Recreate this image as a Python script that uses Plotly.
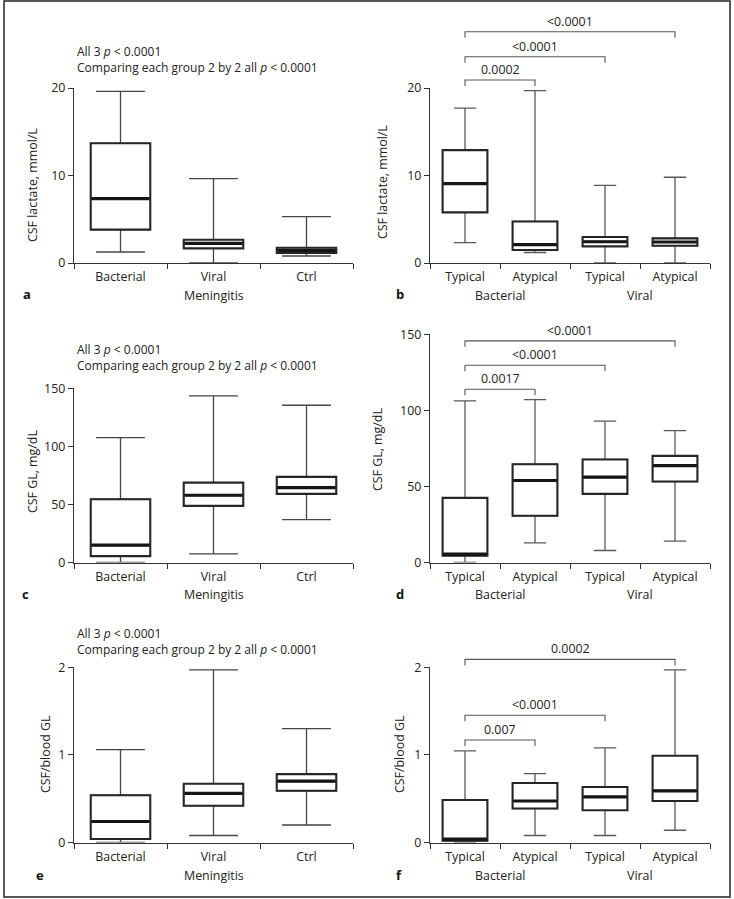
import plotly.graph_objects as go

# ---------------- data ----------------
left_cats = ["Bacterial", "Viral", "Ctrl"]
right_cats = ["Typical", "Atypical", "Typical", "Atypical"]
right_groups = ["Bacterial", "Viral"]

# panel a: CSF lactate, mmol/L
a_lower = [1.26, 0.0, 0.8]
a_q1 = [3.81, 1.67, 1.14]
a_med = [7.35, 2.24, 1.45]
a_q3 = [13.68, 2.66, 1.74]
a_upper = [19.62, 9.64, 5.3]

# panel b
b_lower = [2.32, 1.2, 0.0, 0.0]
b_q1 = [5.79, 1.49, 1.9, 1.98]
b_med = [9.07, 2.09, 2.43, 2.4]
b_q3 = [12.9, 4.75, 2.97, 2.81]
b_upper = [17.7, 19.7, 8.88, 9.8]

# panel c: CSF GL, mg/dL
c_lower = [0.0, 7.5, 37.0]
c_q1 = [5.5, 48.8, 59.1]
c_med = [15.0, 57.9, 64.5]
c_q3 = [54.5, 68.8, 73.7]
c_upper = [107.5, 143.4, 135.4]

# panel d
d_lower = [0.0, 12.9, 7.9, 14.0]
d_q1 = [4.5, 30.7, 45.1, 53.2]
d_med = [5.5, 53.9, 56.1, 63.7]
d_q3 = [42.5, 64.6, 67.7, 70.1]
d_upper = [106.2, 107.0, 92.9, 86.7]

# panel e: CSF/blood GL
e_lower = [0.0, 0.08, 0.2]
e_q1 = [0.04, 0.42, 0.59]
e_med = [0.24, 0.56, 0.70]
e_q3 = [0.54, 0.67, 0.78]
e_upper = [1.06, 1.97, 1.30]

# panel f
f_lower = [0.0, 0.08, 0.08, 0.14]
f_q1 = [0.02, 0.388, 0.368, 0.474]
f_med = [0.04, 0.474, 0.52, 0.59]
f_q3 = [0.486, 0.68, 0.634, 0.99]
f_upper = [1.045, 0.787, 1.08, 1.97]

# significance brackets: (from index, to index, height, label)
b_brackets = [(0, 1, 20.91, "0.0002"), (0, 2, 23.58, "<0.0001"), (0, 3, 26.43, "<0.0001")]
d_brackets = [(0, 1, 113.9, "0.0017"), (0, 2, 129.7, "<0.0001"), (0, 3, 145.7, "<0.0001")]
f_brackets = [(0, 1, 1.17, "0.007"), (0, 2, 1.452, "<0.0001"), (0, 3, 2.09, "0.0002")]

y_ticks = {"a": [0, 10, 20], "b": [0, 10, 20], "c": [0, 50, 100, 150],
           "d": [0, 50, 100, 150], "e": [0, 1, 2], "f": [0, 1, 2]}
y_titles = {"a": "CSF lactate, mmol/L", "b": "CSF lactate, mmol/L",
            "c": "CSF GL, mg/dL", "d": "CSF GL, mg/dL",
            "e": "CSF/blood GL", "f": "CSF/blood GL"}
header_text = ("All 3 <i>p</i> < 0.0001<br>"
               "Comparing each group 2 by 2 all <i>p</i> < 0.0001")

# ---------------- layout geometry (pixels) ----------------
W, H = 734, 899
FONT = "Open Sans"
FS = 12.4
TXT = "#222222"
AX = "#333333"


def px(x):
    return x / W


def py(y):
    return 1 - y / H


LEFT_X = (74, 353)
RIGHT_X = (430, 710)
geom = {
    "a": dict(x=LEFT_X, zero=263.0, top=88.0),
    "b": dict(x=RIGHT_X, zero=263.0, top=88.0, ext=12.0),
    "c": dict(x=LEFT_X, zero=562.5, top=388.3),
    "d": dict(x=RIGHT_X, zero=562.5, top=334.3, ext=318.0),
    "e": dict(x=LEFT_X, zero=842.5, top=667.3),
    "f": dict(x=RIGHT_X, zero=842.5, top=667.3, ext=640.0),
}
row_labels_y = {"a": 295, "b": 295, "c": 594, "d": 594, "e": 875, "f": 875}
ytitle_pos = {"a": (32, 185), "b": (382, 182), "c": (32, 472), "d": (377, 450),
              "e": (45, 754), "f": (399, 754)}
letter_pos = {"a": (27, 294), "b": (400, 294), "c": (25, 594), "d": (400, 594),
              "e": (40, 875), "f": (399, 875)}
header_mid = {"a": 59.5, "c": 357.5, "e": 641}

panels = {
    "a": (left_cats, a_lower, a_q1, a_med, a_q3, a_upper, None),
    "b": (right_cats, b_lower, b_q1, b_med, b_q3, b_upper, b_brackets),
    "c": (left_cats, c_lower, c_q1, c_med, c_q3, c_upper, None),
    "d": (right_cats, d_lower, d_q1, d_med, d_q3, d_upper, d_brackets),
    "e": (left_cats, e_lower, e_q1, e_med, e_q3, e_upper, None),
    "f": (right_cats, f_lower, f_q1, f_med, f_q3, f_upper, f_brackets),
}

fig = go.Figure()
annotations = []
layout = {}
BOX_W = 0.64
ext_axis_n = 7

for i, key in enumerate(["a", "b", "c", "d", "e", "f"]):
    n = i + 1
    cats, lo, q1, med, q3, up, brackets = panels[key]
    g = geom[key]
    xs = list(range(len(cats)))
    xname = "x" if n == 1 else f"x{n}"
    yname = "y" if n == 1 else f"y{n}"
    left = key in ("a", "c", "e")
    ww = 0.82 if left else 0.5
    wcol = "#454545" if left else "#5a5a5a"
    top_val = y_ticks[key][-1]

    # whiskers (thin) layer
    fig.add_trace(go.Box(
        x=xs, q1=q1, median=med, q3=q3, lowerfence=lo, upperfence=up,
        width=BOX_W, whiskerwidth=ww, fillcolor="white",
        line=dict(color=wcol, width=1.3), boxpoints=False,
        xaxis=xname, yaxis=yname, showlegend=False, hoverinfo="skip"))
    # box (thick) layer
    fig.add_trace(go.Box(
        x=xs, q1=q1, median=med, q3=q3, lowerfence=q1, upperfence=q3,
        width=BOX_W, whiskerwidth=0, fillcolor="white",
        line=dict(color="#262626", width=2.1), boxpoints=False,
        xaxis=xname, yaxis=yname, showlegend=False, hoverinfo="skip"))
    # thick median lines
    mx, my = [], []
    for xi, m in zip(xs, med):
        mx += [xi - BOX_W / 2 + 0.01, xi + BOX_W / 2 - 0.01, None]
        my += [m, m, None]
    fig.add_trace(go.Scatter(x=mx, y=my, mode="lines",
                             line=dict(color="#151515", width=3.2),
                             xaxis=xname, yaxis=yname, showlegend=False,
                             hoverinfo="skip"))

    xa = dict(domain=[px(g["x"][0]), px(g["x"][1])], range=[-0.5, len(cats) - 0.5],
              anchor=yname, showline=True, linecolor=AX, linewidth=1.3,
              showgrid=False, zeroline=False, automargin=False,
              tickmode="array", tickvals=xs, ticktext=cats,
              ticks="outside", ticklen=2, tickcolor="rgba(0,0,0,0)",
              tickfont=dict(family=FONT, size=FS, color=TXT),
              minor=dict(tickmode="array", tickvals=[v - 0.5 for v in range(len(cats) + 1)],
                         ticks="outside", ticklen=5, tickwidth=1.2, tickcolor=AX,
                         showgrid=False),
              fixedrange=True)
    ya = dict(domain=[py(g["zero"]), py(g["top"])], range=[0, top_val],
              anchor=xname, showline=True, linecolor=AX, linewidth=1.3,
              showgrid=False, zeroline=False, automargin=False,
              tickmode="array", tickvals=y_ticks[key],
              ticks="outside", ticklen=5, tickwidth=1.2, tickcolor=AX,
              tickfont=dict(family=FONT, size=FS, color=TXT), fixedrange=True)
    layout["xaxis" if n == 1 else f"xaxis{n}"] = xa
    layout["yaxis" if n == 1 else f"yaxis{n}"] = ya

    # brackets on an extended invisible axis with the same scale
    if brackets:
        en = ext_axis_n
        ext_axis_n += 1
        ppu = (g["zero"] - g["top"]) / top_val
        ext_top = (g["zero"] - g["ext"]) / ppu
        layout[f"yaxis{en}"] = dict(domain=[py(g["zero"]), py(g["ext"])],
                                    range=[0, ext_top], visible=False,
                                    automargin=False,
                                    anchor=xname, fixedrange=True)
        drop = 6.0 / ppu
        for (a0, a1, h, lab) in brackets:
            fig.add_trace(go.Scatter(
                x=[a0, a0, a1, a1], y=[h - drop, h, h, h - drop], mode="lines",
                line=dict(color="#555555", width=1.1),
                xaxis=xname, yaxis=f"y{en}", showlegend=False, hoverinfo="skip"))
            annotations.append(dict(
                x=(a0 + a1) / 2, y=h, xref=xname, yref=f"y{en}", text=lab,
                showarrow=False, yanchor="bottom", xanchor="center", yshift=0,
                font=dict(family=FONT, size=FS, color=TXT)))

    # x-axis second-line labels
    lab_y = row_labels_y[key]
    if left:
        annotations.append(dict(x=(g["x"][0] + g["x"][1]) / 2 / W, y=py(lab_y),
                                xref="paper", yref="paper", text="Meningitis",
                                showarrow=False, xanchor="center", yanchor="middle",
                                font=dict(family=FONT, size=FS, color=TXT)))
    else:
        for gi, gname in enumerate(right_groups):
            annotations.append(dict(x=2 * gi + 0.5, y=py(lab_y), xref=xname, yref="paper",
                                    text=gname, showarrow=False, xanchor="center",
                                    yanchor="middle",
                                    font=dict(family=FONT, size=FS, color=TXT)))

    # y-axis title
    tx, ty = ytitle_pos[key]
    annotations.append(dict(x=px(tx), y=py(ty), xref="paper", yref="paper",
                            text=y_titles[key], textangle=-90, showarrow=False,
                            xanchor="center", yanchor="middle",
                            font=dict(family=FONT, size=FS, color=TXT)))
    # panel letter
    lx, ly = letter_pos[key]
    annotations.append(dict(x=px(lx), y=py(ly), xref="paper", yref="paper",
                            text=f"<b>{key}</b>", showarrow=False,
                            xanchor="center", yanchor="middle",
                            font=dict(family=FONT, size=13, color="#111111")))
    # header (two lines)
    if key in header_mid:
        annotations.append(dict(x=px(75), y=py(header_mid[key]), xref="paper",
                                yref="paper", text=header_text, showarrow=False,
                                xanchor="left", yanchor="middle", align="left",
                                font=dict(family=FONT, size=12, color=TXT)))

fig.update_layout(
    width=W, height=H,
    margin=dict(l=0, r=0, t=0, b=0, pad=0, autoexpand=False),
    paper_bgcolor="white", plot_bgcolor="rgba(0,0,0,0)",
    showlegend=False, boxmode="overlay",
    annotations=annotations,
    shapes=[dict(type="rect", xref="paper", yref="paper",
                 x0=px(4), x1=px(730), y0=py(897), y1=py(1),
                 line=dict(color="#222222", width=1.5))],
    **layout,
)

fig.write_html(
    "out.html",
    config={"displayModeBar": False},
    post_script=(
        "var gd=document.getElementById('{plot_id}');"
        "gd.style.position='fixed';gd.style.top='0px';gd.style.left='0px';"
        "document.documentElement.style.margin='0';document.documentElement.style.padding='0';"
        "document.documentElement.style.overflow='hidden';"
        "document.body.style.margin='0';document.body.style.padding='0';"
        "document.body.style.overflow='hidden';"
    ),
)
